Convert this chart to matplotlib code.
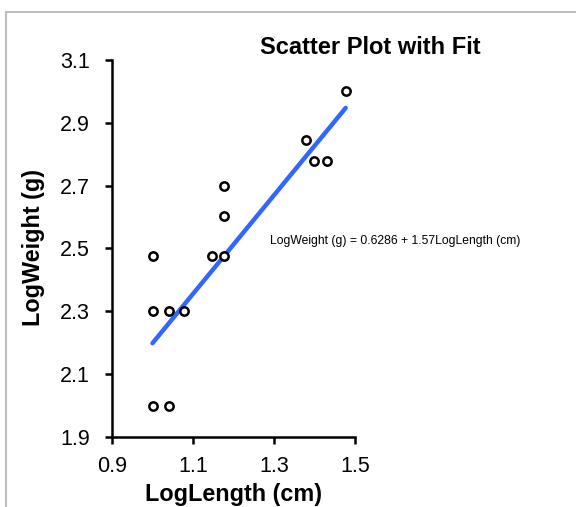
import numpy as np
import matplotlib.pyplot as plt
from matplotlib.patches import Rectangle

# log10 length (cm) and log10 weight (g)
log_length = [1.000, 1.041, 1.000, 1.041, 1.079, 1.000, 1.146, 1.176,
              1.176, 1.176, 1.380, 1.398, 1.431, 1.477]
log_weight = [2.000, 2.000, 2.301, 2.301, 2.301, 2.477, 2.477, 2.477,
              2.602, 2.699, 2.845, 2.778, 2.778, 3.000]
intercept = 0.6286
slope = 1.57
x_ticks = [0.9, 1.1, 1.3, 1.5]
y_ticks = [1.9, 2.1, 2.3, 2.5, 2.7, 2.9, 3.1]

plt.rcParams['font.family'] = ['Liberation Sans', 'DejaVu Sans']

fig = plt.figure(figsize=(5.76, 5.07), dpi=100)
ax = fig.add_axes([112/576, 1-437/507, (355-112)/576, (437-60)/507])

# grey frame around the chart area
fig.patches.append(Rectangle((6/576, -0.2), 1.2, 1.2 - 12/507,
                             transform=fig.transFigure, fill=False,
                             edgecolor='#bdbdbd', linewidth=1.5))

xs = np.array([min(log_length), max(log_length)])
ax.plot(xs, intercept + slope*xs, color='#3366ff', linewidth=3.2, solid_capstyle='round', zorder=2)
ax.scatter(log_length, log_weight, s=36, facecolors='white', edgecolors='black',
           linewidths=1.8, zorder=3)

ax.set_xlim(0.9, 1.5)
ax.set_ylim(1.9, 3.1)
ax.set_xticks(x_ticks)
ax.set_yticks(y_ticks)
ax.set_xticklabels([f'{t:.1f}' for t in x_ticks])
ax.set_yticklabels([f'{t:.1f}' for t in y_ticks])
ax.tick_params(axis='both', direction='out', length=5, width=1.8, labelsize=15.5)
ax.tick_params(axis='x', pad=9)
ax.tick_params(axis='y', pad=11)
for s in ['top', 'right']:
    ax.spines[s].set_visible(False)
for s in ['left', 'bottom']:
    ax.spines[s].set_linewidth(1.8)

fig.text(233.5/576, 1-494/507, 'LogLength (cm)', fontsize=16.8, fontweight='bold',
         ha='center', va='center')
fig.text(34/576, 1-248/507, 'LogWeight (g)', fontsize=16.8, fontweight='bold',
         ha='center', va='center', rotation=90)
fig.text(370/576, 1-47/507, 'Scatter Plot with Fit', fontsize=17, fontweight='bold',
         ha='center', va='center')
fig.text(270/576, 1-241/507, 'LogWeight (g) = 0.6286 + 1.57LogLength (cm)',
         fontsize=8.7, ha='left', va='center')

fig.savefig('out.png', dpi=100)
